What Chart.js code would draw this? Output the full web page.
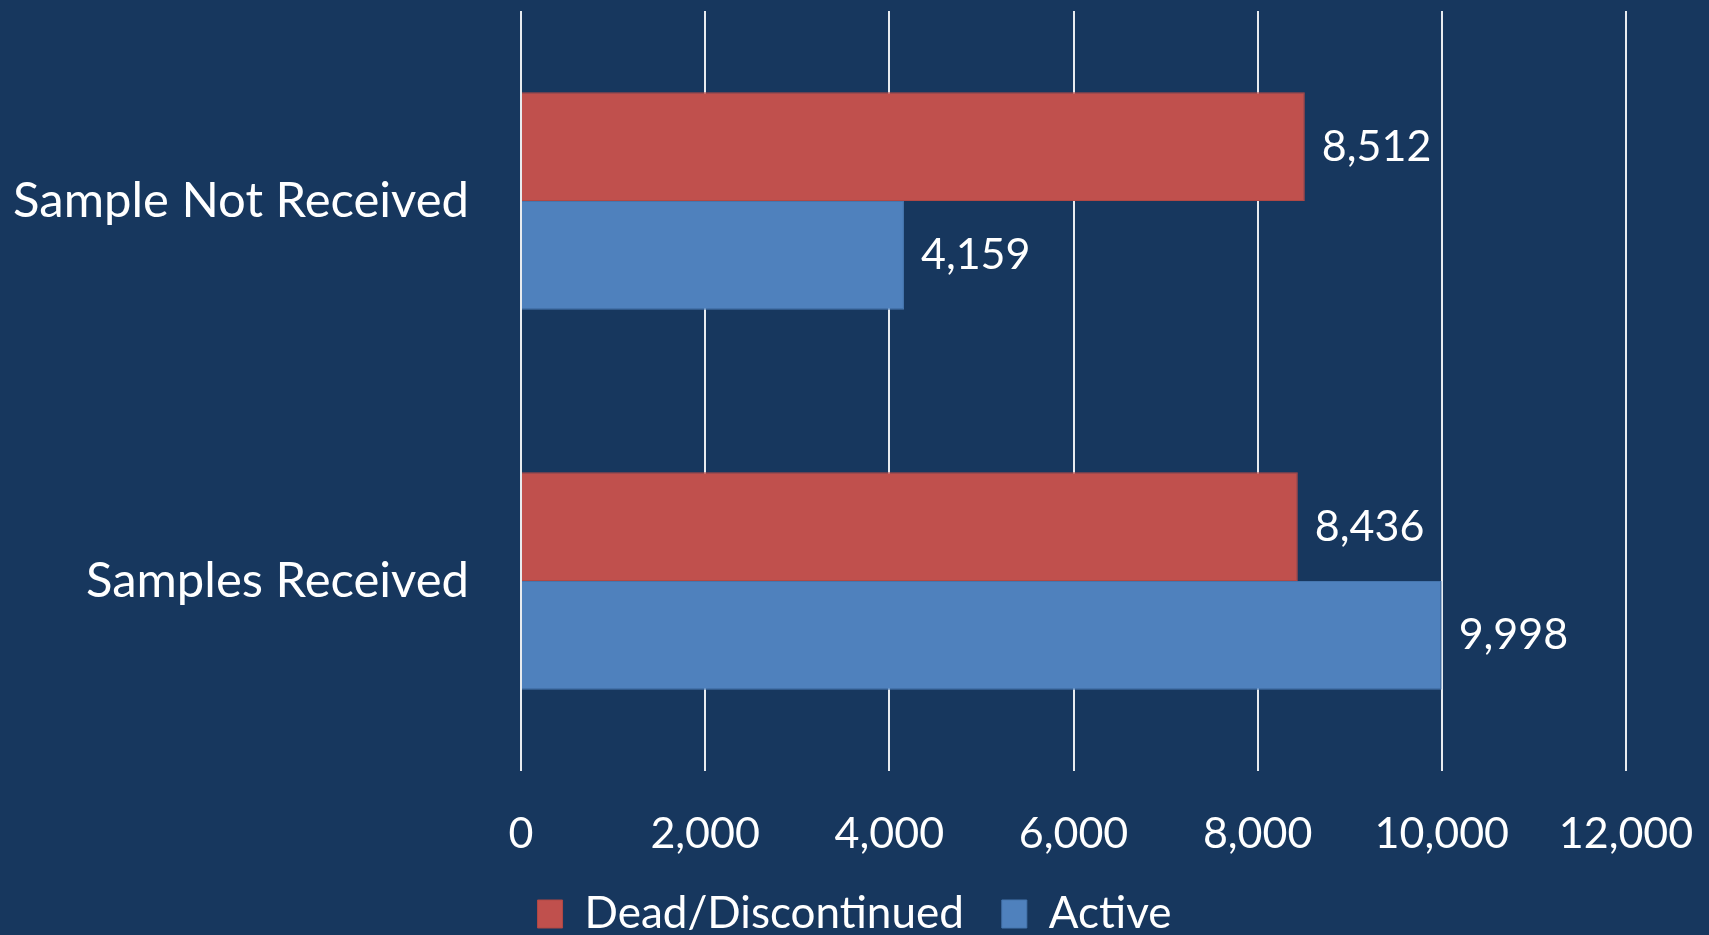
<!DOCTYPE html>
<html>
<head>
<meta charset="utf-8">
<script src="https://cdn.jsdelivr.net/npm/chart.js@4.4.1/dist/chart.umd.min.js"></script>
<style>
  html, body { margin: 0; padding: 0; background: #17375E; overflow: hidden; }
  #wrap { width: 1709px; height: 946px; }
</style>
</head>
<body>
<div id="wrap"><canvas id="chart"></canvas></div>
<script>
const categories = ['Sample Not Received', 'Samples Received'];
const deadValues = [8512, 8436];
const activeValues = [4159, 9998];
const seriesNames = ['Dead/Discontinued', 'Active'];

const FONT = 'Lato, "Open Sans", sans-serif';
const fmt = v => v.toLocaleString('en-US');

// value labels at the end of each bar
const barLabels = {
  id: 'barLabels',
  afterDatasetsDraw(chart) {
    const ctx = chart.ctx;
    ctx.save();
    ctx.font = '43px ' + FONT;
    ctx.fillStyle = '#ffffff';
    ctx.textAlign = 'left';
    ctx.textBaseline = 'middle';
    chart.data.datasets.forEach((ds, i) => {
      chart.getDatasetMeta(i).data.forEach((bar, j) => {
        ctx.fillText(fmt(ds.data[j]), bar.x + 17, bar.y);
      });
    });
    ctx.restore();
  }
};

new Chart(document.getElementById('chart'), {
  type: 'bar',
  data: {
    labels: categories,
    datasets: [
      { label: seriesNames[0], data: deadValues, backgroundColor: '#C0504D', borderColor: '#B04845', borderWidth: 1 },
      { label: seriesNames[1], data: activeValues, backgroundColor: '#4F81BD', borderColor: '#4676AE', borderWidth: 1 },
    ],
  },
  options: {
    indexAxis: 'y',
    responsive: true, maintainAspectRatio: false, animation: false,
    categoryPercentage: 0.572, barPercentage: 1,
    layout: { padding: { top: 11, right: 0, left: 0, bottom: 0 } },
    plugins: {
      legend: {
        position: 'bottom',
        labels: { color: '#ffffff', font: { size: 44, family: FONT }, boxWidth: 25, boxHeight: 28, padding: 38 },
      },
      tooltip: { enabled: false },
    },
    scales: {
      x: {
        min: 0, max: 12000,
        ticks: { stepSize: 2000, color: '#ffffff', font: { size: 43, family: FONT }, padding: 37, callback: v => fmt(v) },
        grid: { color: 'rgba(255,255,255,0.9)', lineWidth: 2, drawTicks: false },
        border: { display: false },
        afterFit: s => { s.height = 83; s.paddingLeft = 0; s.paddingRight = 83; },
      },
      y: {
        ticks: { color: '#ffffff', font: { size: 49, family: FONT }, padding: 52 },
        grid: { display: false, drawTicks: false },
        border: { display: false },
        afterFit: s => { s.width = 521; s.paddingTop = 0; s.paddingBottom = 0; },
      },
    },
  },
  plugins: [barLabels],
});
</script>
</body>
</html>
